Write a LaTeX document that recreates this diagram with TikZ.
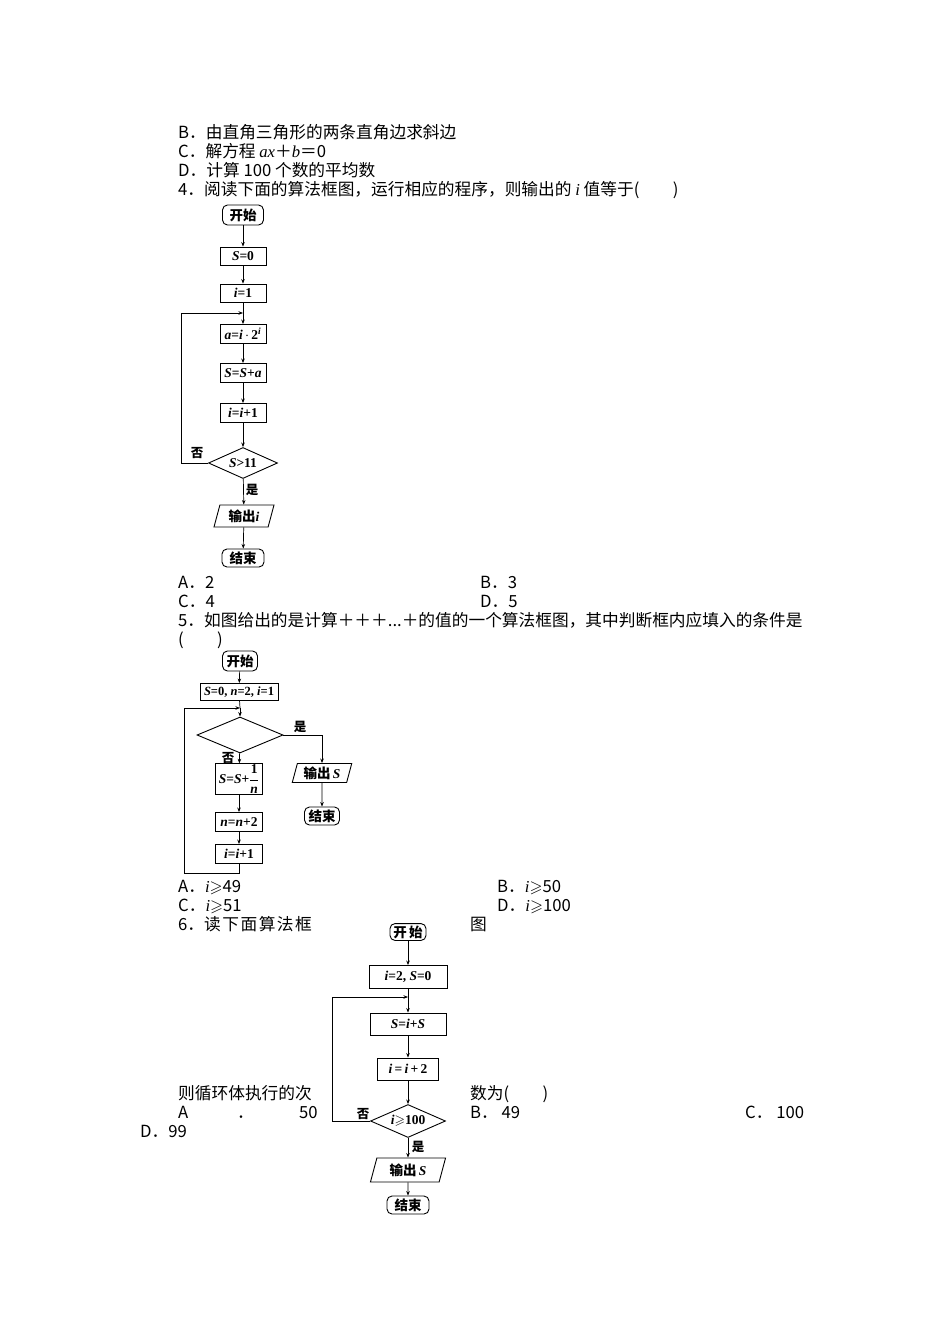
\documentclass[tikz,border=0pt]{standalone}
\usepackage{amsmath,amssymb}
\usepackage{fontspec}
\setmainfont{Liberation Serif}
\newfontfamily\cjk{Noto Sans CJK SC}
\usetikzlibrary{shapes.geometric,arrows.meta}
\tikzstyle{txt} = [anchor=base west, inner sep=0pt, font={\cjk\fontsize{16.7}{19}\selectfont}]
\tikzstyle{box} = [draw, line width=0.9pt, inner sep=2pt, font={\bfseries\fontsize{13.5}{15}\selectfont}]
\tikzstyle{term} = [box, rounded corners=5pt]
\tikzstyle{cond} = [box, diamond, aspect=2.2, inner sep=1pt]
\tikzstyle{io} = [box, trapezium, trapezium left angle=75, trapezium right angle=105, inner sep=1pt]
\tikzstyle{lab} = [inner sep=0pt, font={\cjk\bfseries\fontsize{12.5}{14}\selectfont}]
\tikzstyle{line} = [line width=0.7pt]
\tikzstyle{flow} = [line, -{Stealth[length=4.5pt,width=3.5pt]}]

\begin{document}
\begin{tikzpicture}[x=1pt,y=-1pt]
        \useasboundingbox (0,0) rectangle (950,1344);
        % question text
        \node[txt](t1) at (178,138){B．由直角三角形的两条直角边求斜边};
        \node[txt](t2) at (178,157){C．解方程 {\rmfamily\itshape ax}＋{\rmfamily\itshape b}＝0};
        \node[txt](t3) at (178,176){D．计算 100 个数的平均数};
        \node[txt](t4) at (178,195){4．阅读下面的算法框图，运行相应的程序，则输出的 {\rmfamily\itshape i} 值等于(　　)};
        \node[txt](t5) at (178,588){A．2};
        \node[txt](t6) at (480,588){B．3};
        \node[txt](t7) at (178,607){C．4};
        \node[txt](t8) at (480,607){D．5};
        \node[txt](t9) at (178,626){5．如图给出的是计算＋＋＋...＋的值的一个算法框图，其中判断框内应填入的条件是};
        \node[txt](t10) at (178,645){(　　)};
        \node[txt](t11) at (178,892){A．{\rmfamily\itshape i}$\geqslant$49};
        \node[txt](t12) at (497,892){B．{\rmfamily\itshape i}$\geqslant$50};
        \node[txt](t13) at (178,911){C．{\rmfamily\itshape i}$\geqslant$51};
        \node[txt](t14) at (497,911){D．{\rmfamily\itshape i}$\geqslant$100};
        \node[txt](t15) at (178,930){6．读\kern1.5pt 下\kern1.5pt 面\kern1.5pt 算\kern1.5pt 法\kern1.5pt 框};
        \node[txt](t16) at (470,930){图};
        \node[txt](t17) at (178,1099){则循环体执行的次};
        \node[txt](t18) at (470,1099){数为(　　)};
        \node[txt](t19) at (178,1118){A};
        \node[txt](t20) at (237,1118){．};
        \node[txt](t21) at (299,1118){50};
        \node[txt](t22) at (470,1118){B．\ 49};
        \node[txt](t23) at (745,1118){C．\ 100};
        \node[txt](t24) at (140,1137){D．99};
        % chart of question 4
        \node[term,minimum width=41,minimum height=20](a0) at (243,215){\cjk 开始};
        \node[box,minimum width=46,minimum height=18](a1) at (243,256){\textit{S}=0};
        \node[box,minimum width=46,minimum height=18](a2) at (243,293){\textit{i}=1};
        \coordinate (a3) at (243,313);
        \node[box,minimum width=46,minimum height=19](a4) at (243,334){\textit{a}=\textit{i}\,$\cdot$\,2\textsuperscript{\textit{i}}};
        \node[box,minimum width=46,minimum height=19](a5) at (243,373){\textit{S}=\textit{S}+\textit{a}};
        \node[box,minimum width=46,minimum height=19](a6) at (243,413){\textit{i}=\textit{i}+1};
        \node[cond,minimum width=69,minimum height=31](a7) at (243,463){\textit{S}>11};
        \node[io,minimum width=54,minimum height=22](a8) at (244,516){\cjk 输出\rmfamily\textit{i}};
        \node[term,minimum width=42,minimum height=18](a9) at (243,558){\cjk 结束};
        \node[lab] at (197,453){否};
        \node[lab] at (252,490){是};
        \draw[flow](a0)--(a1);
        \draw[flow](a1)--(a2);
        \draw[line](a2)--(a3);
        \draw[flow](a3)--(a4);
        \draw[flow](a4)--(a5);
        \draw[flow](a5)--(a6);
        \draw[flow](a6)--(a7);
        \draw[flow](a7)--(a8);
        \draw[flow](a8)--(a9);
        \draw[flow](a7.west)--++(-27,0)|-(a3);
        % chart of question 5
        \node[term,minimum width=35,minimum height=20](b0) at (240,661){\cjk 开始};
        \node[box,minimum width=78,minimum height=17,font={\bfseries\fontsize{12.5}{14}\selectfont}](b1) at (239,692){\textit{S}=0, \textit{n}=2, \textit{i}=1};
        \coordinate (b2) at (240,708);
        \node[cond,minimum width=86,minimum height=36](b3) at (240,735){};
        \node[box,minimum width=47,minimum height=26,inner sep=1pt](b4) at (239,779){\textit{S}=\textit{S}+$\dfrac{\text{1}}{\text{\textit{n}}}$};
        \node[box,minimum width=47,minimum height=19](b5) at (239,822){\textit{n}=\textit{n}+2};
        \node[box,minimum width=47,minimum height=19](b6) at (239,854){\textit{i}=\textit{i}+1};
        \node[io,minimum width=48,minimum height=19](b7) at (322,773){\cjk 输出\,\rmfamily\textit{S}};
        \node[term,minimum width=35,minimum height=18](b8) at (322,816){\cjk 结束};
        \node[lab] at (300,727){是};
        \node[lab] at (228,758){否};
        \draw[flow](b0)--(b1);
        \draw[line](b1)--(b2);
        \draw[flow](b2)--(b3);
        \draw[flow](b3)--(b4);
        \draw[flow](b4)--(b5);
        \draw[flow](b5)--(b6);
        \draw[flow](b6.south)|-(184,873)|-(b2);
        \draw[flow](b3.east)-|(b7.north);
        \draw[flow](b7)--(b8);
        % chart of question 6
        \node[term,minimum width=36,minimum height=16](c0) at (408,932){\cjk 开\,始};
        \node[box,minimum width=78,minimum height=23](c1) at (408,977){\textit{i}=2, \textit{S}=0};
        \coordinate (c2) at (408,997);
        \node[box,minimum width=76,minimum height=22](c3) at (408,1024){\textit{S}=\textit{i}+\textit{S}};
        \node[box,minimum width=61,minimum height=22](c4) at (408,1069){\textit{i}\,=\,\textit{i}\,+\,2};
        \node[cond,minimum width=75,minimum height=33](c5) at (408,1121){\textit{i}$\geqslant$100};
        \node[io,minimum width=72,minimum height=24](c6) at (408,1170){\cjk 输出\,\rmfamily\textit{S}};
        \node[term,minimum width=42,minimum height=18](c7) at (408,1205){\cjk 结束};
        \node[lab] at (363,1114){否};
        \node[lab] at (418,1147){是};
        \draw[flow](c0)--(c1);
        \draw[line](c1)--(c2);
        \draw[flow](c2)--(c3);
        \draw[flow](c3)--(c4);
        \draw[flow](c4)--(c5);
        \draw[flow](c5)--(c6);
        \draw[flow](c6)--(c7);
        \draw[flow](c5.west)--++(-38,0)|-(c2);
      \end{tikzpicture}
\end{document}
